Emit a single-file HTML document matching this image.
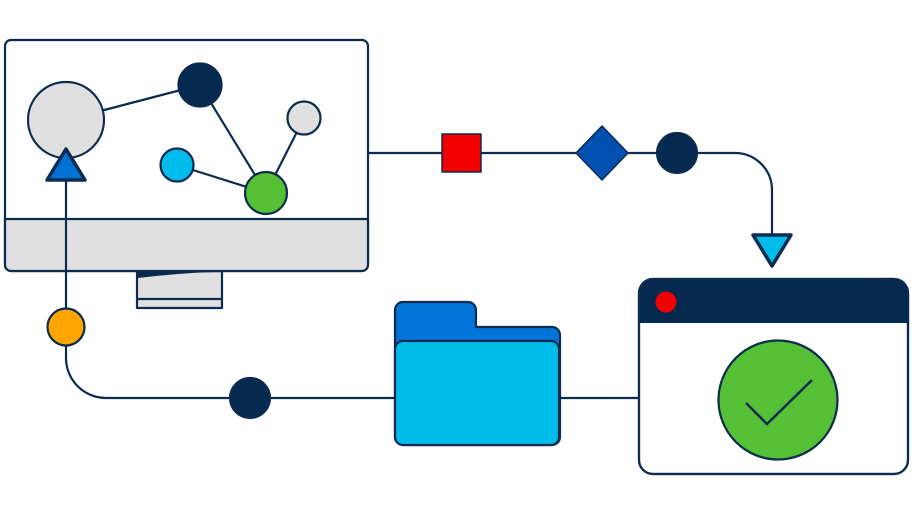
<!DOCTYPE html>
<html><head><meta charset="utf-8"><style>
html,body{margin:0;padding:0;background:#fff;}
svg{display:block;}
</style></head><body>
<svg width="912" height="513" viewBox="0 0 912 513" xmlns="http://www.w3.org/2000/svg">
<g stroke="#0b2b4f" stroke-width="2.2" fill="none" stroke-linejoin="round">
  <!-- top connector -->
  <path d="M368 153 H735 A37 37 0 0 1 772 190 V236"/>
  <!-- monitor stand -->
  <rect x="137" y="271" width="85" height="37" fill="#e0e0e0"/>
  <line x1="137" y1="299" x2="222" y2="299"/>
  <!-- monitor -->
  <rect x="5" y="40" width="363" height="231" rx="6" fill="#fff"/>
  <path d="M5 219 H368 V265 A6 6 0 0 1 362 271 H11 A6 6 0 0 1 5 265 Z" fill="#e0e0e0"/>
  <!-- bottom connector (over monitor) -->
  <path d="M66 180 V358 A40 40 0 0 0 106 398 H640"/>
</g>
<path d="M138 272 H213 Q180 273 138 278 Z" fill="#05294f"/>
<g stroke="#0b2b4f" stroke-width="2.2" stroke-linejoin="round">
  <!-- network lines -->
  <line x1="66" y1="120" x2="200" y2="85"/>
  <line x1="200" y1="85" x2="266" y2="193"/>
  <line x1="177" y1="165" x2="266" y2="193"/>
  <line x1="304" y1="118" x2="266" y2="193"/>
  <circle cx="66" cy="120" r="38" fill="#e0e0e0"/>
  <circle cx="200" cy="85" r="21.5" fill="#05294f"/>
  <circle cx="304" cy="118" r="16.5" fill="#e0e0e0"/>
  <circle cx="177" cy="165" r="16.5" fill="#00bceb"/>
  <circle cx="266" cy="193" r="21" fill="#55bf35"/>
  <!-- blue triangle -->
  <path d="M66 149 L85 180 L47 180 Z" fill="#0072d6" stroke-width="3.5"/>
  <!-- orange -->
  <circle cx="66" cy="327" r="18.5" fill="#ffa400"/>
  <!-- bottom navy dot -->
  <circle cx="250" cy="398" r="20" fill="#05294f"/>
  <!-- red square -->
  <rect x="442" y="134" width="39" height="38" fill="#f20000" stroke-width="1.5"/>
  <!-- diamond -->
  <path d="M602 126 L628 153 L602 180 L576 153 Z" fill="#0050b0" stroke-width="1.5"/>
  <!-- navy dot top -->
  <circle cx="677" cy="153" r="20" fill="#05294f"/>
  <!-- cyan down triangle -->
  <path d="M753 235 L791 235 L772 266 Z" fill="#00bceb" stroke-width="3.5"/>
  <!-- folder -->
  <path d="M395 310 A8 8 0 0 1 403 302 H468 A8 8 0 0 1 476 310 V327 H552 A8 8 0 0 1 560 335 V437 A8 8 0 0 1 552 445 H403 A8 8 0 0 1 395 437 Z" fill="#0074d9"/>
  <path d="M395 349 A8 8 0 0 1 403 341 H551 A8 8 0 0 1 559 349 V437 A8 8 0 0 1 551 445 H403 A8 8 0 0 1 395 437 Z" fill="#00bceb"/>
  <!-- window -->
  <rect x="639" y="279" width="269" height="195" rx="14" fill="#fff"/>
</g>
<path d="M653 279 H894 A14 14 0 0 1 908 293 V323 H639 V293 A14 14 0 0 1 653 279 Z" fill="#05294f"/>
<rect x="639" y="279" width="269" height="195" rx="14" fill="none" stroke="#0b2b4f" stroke-width="2.2"/>
<circle cx="666" cy="302" r="10.5" fill="#f20000"/>
<circle cx="778" cy="400" r="59.5" fill="#55bf35" stroke="#0b2b4f" stroke-width="2.2"/>
<path d="M746 403 L767 424 L812 380" fill="none" stroke="#0b2b4f" stroke-width="2.5"/>
</svg>
</body></html>
